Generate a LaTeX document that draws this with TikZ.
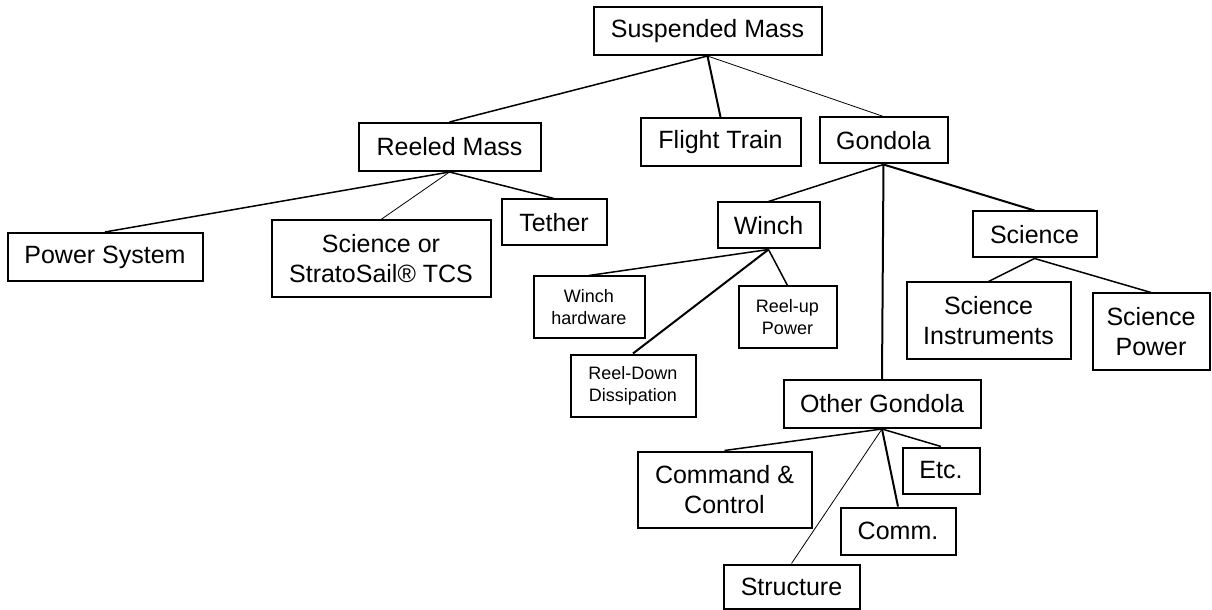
\documentclass[tikz,border=0pt]{standalone}
\usepackage{fontspec}
\setmainfont{Liberation Sans}
\usepackage{tikz}

\begin{document}
\begin{tikzpicture}[x=0.5pt,y=-0.5pt]
\tikzset{box/.style={draw,line width=1pt,inner sep=2pt,align=center,font=\fontsize{12.5}{15}\selectfont},
 smallbox/.style={box,font=\fontsize{9}{11}\selectfont},
 link/.style={line width=0.75pt},
 thinlink/.style={line width=0.4pt},
 thicklink/.style={line width=1pt}}
\useasboundingbox (0,0) rectangle (1212,610);

\node[box,minimum width=114pt,minimum height=24pt] (susp) at (707.5,31) {Suspended Mass};
\node[box,minimum width=91pt,minimum height=24pt] (reeled) at (449.5,147) {Reeled Mass};
\node[box,minimum width=80pt,minimum height=24pt] (train) at (720.5,142) {Flight Train};
\node[box,minimum width=64pt,minimum height=23pt] (gondola) at (883.5,140.5) {Gondola};

\node[box,minimum width=97.5pt,minimum height=24pt] (power) at (105,257) {Power System};
\node[box,minimum width=109.5pt,minimum height=38.5pt] (tcs) at (381,259) {Science or\\StratoSail® TCS};
\node[box,minimum width=52.5pt,minimum height=23pt] (tether) at (554,222.5) {Tether};

\node[box,minimum width=51pt,minimum height=23pt] (winch) at (768.5,225.5) {Winch};
\node[smallbox,minimum width=55.5pt,minimum height=30.5pt] (hardware) at (589,307) {Winch\\hardware};
\node[smallbox,minimum width=49pt,minimum height=30.5pt] (reelup) at (787.5,317) {Reel-up\\Power};
\node[smallbox,minimum width=62.5pt,minimum height=31pt] (reeldown) at (633,385.5) {Reel-Down\\Dissipation};

\node[box,minimum width=62pt,minimum height=23pt] (science) at (1034.5,234.5) {Science};
\node[box,minimum width=82pt,minimum height=38pt] (instr) at (988.5,320.5) {Science\\Instruments};
\node[box,minimum width=58.5pt,minimum height=38pt] (scipower) at (1151,331.5) {Science\\Power};

\node[box,minimum width=98.5pt,minimum height=24pt] (other) at (882,404) {Other Gondola};
\node[box,minimum width=87pt,minimum height=38pt] (command) at (724.5,489.5) {Command \&\\Control};
\node[box,minimum width=38.5pt,minimum height=23pt] (etc) at (941,470.5) {Etc.};
\node[box,minimum width=57.5pt,minimum height=23.5pt] (comm) at (898,531) {Comm.};
\node[box,minimum width=68pt,minimum height=22pt] (struct) at (791.5,586.5) {Structure};

% top level
\draw[link] (susp.south) -- (reeled.north);
\draw[thicklink] (susp.south) -- (train.north);
\draw[thinlink] (susp.south) -- (gondola.north);

% reeled mass
\draw[link] (reeled.south) -- (power.north);
\draw[thinlink] (reeled.south) -- (tcs.north);
\draw[link] (reeled.south) -- (tether.north);

% gondola
\draw[link] (gondola.south) -- (winch.north);
\draw[thicklink] (gondola.south) -- (other.north);
\draw[thicklink] (gondola.south) -- (science.north);

\draw[link] (winch.south) -- (hardware.north);
\draw[thicklink] (winch.south) -- (reeldown.north);
\draw[link] (winch.south) -- (reelup.north);

\draw[link] (science.south) -- (instr.north);
\draw[link] (science.south) -- (scipower.north);

\draw[link] (other.south) -- (command.north);
\draw[thinlink] (other.south) -- (struct.north);
\draw[thicklink] (other.south) -- (comm.north);
\draw[link] (other.south) -- (etc.north);

\end{tikzpicture}
\end{document}
